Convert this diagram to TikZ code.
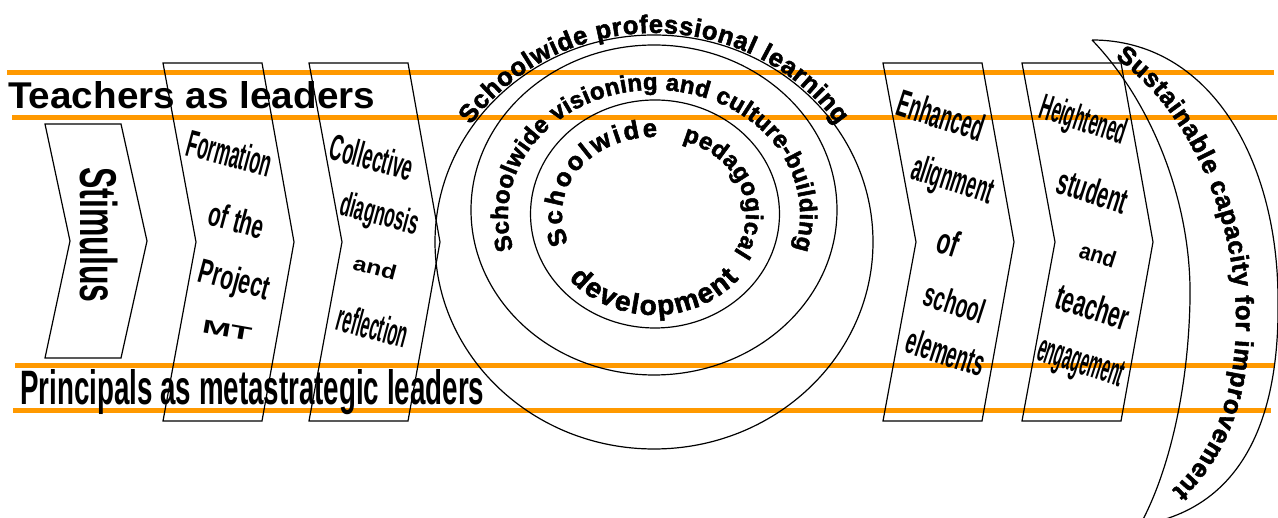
\documentclass[tikz,border=0pt]{standalone}
\usepackage{fontspec}
\setmainfont{Liberation Sans}
\newfontfamily\blackfont{Liberation Sans Bold}[FakeBold=2]
\usepackage{graphicx}
\usepackage{xcolor}
\usetikzlibrary{positioning}
\usetikzlibrary{decorations.text}
\definecolor{bandorange}{RGB}{255,153,0}
\tikzset{band/.style = {draw=bandorange, line width=5pt}}
\newcommand\squeeze[3]{\resizebox*{#1pt}{#2pt}{\bfseries #3}}
\newcommand\arcfont{\blackfont\fontsize{25.5pt}{27pt}\selectfont}
\newcommand\arcbig{\blackfont\fontsize{28pt}{30pt}\selectfont}
\newcommand\arcsmall{\blackfont\fontsize{24pt}{26pt}\selectfont}

\begin{document}
\begin{tikzpicture}[x=1pt,y=1pt,
    chev/.style={draw,line width=1.2pt},
    ring/.style={draw,line width=1.2pt},
    word/.style={inner sep=0pt,rotate=-15},
    rword/.style={inner sep=0pt,rotate=-18}]
\useasboundingbox (0,0) rectangle (1278,518);

\draw[band] (7,445) -- (1274,445);
\draw[band] (12,400) -- (1277,400);
\draw[band] (15,152) -- (1274,152);
\draw[band] (13,107) -- (1271,107);

\node[anchor=base west,inner sep=0pt] (teachers) at (8,409.5) {\resizebox{367pt}{27pt}{\bfseries Teachers as leaders}};
\node[anchor=base west,inner sep=0pt] (principals) at (20,113) {\resizebox{464pt}{35pt}{\bfseries Principals as metastrategic leaders}};

\draw[chev] (45,394) -- ++(76,0) -- ++(26,-117) -- ++(-26,-117) -- ++(-76,0) -- ++(25,117) -- cycle;
\foreach \x in {163,309,883,1022}
  \draw[chev] (\x,455) -- ++(99,0) -- ++(32,-179) -- ++(-32,-179) -- ++(-99,0) -- ++(33,179) -- cycle;

\coordinate (outer) at (654,276);
\coordinate (middle) at (654,308);
\coordinate (inner) at (655,304);
\draw[ring] (outer) ellipse [x radius=219, y radius=207];
\draw[ring] (middle) ellipse [x radius=183, y radius=165];
\draw[ring] (inner) ellipse [x radius=124.5, y radius=114];

\draw[ring] (1092,478) .. controls (1210,478) and (1278,358) .. (1278,218)
  .. controls (1280,88) and (1235,8) .. (1140,-7)
  .. controls (1165,38) and (1188,118) .. (1190,218)
  .. controls (1192,318) and (1150,418) .. (1092,478);

\node[rotate=-90,inner sep=0pt] (stimulus) at (99,283) {\squeeze{135}{38}{Stimulus}};

\node[word] (formation) at (230,365) {\squeeze{86}{28}{Formation}};
\node[word] (ofthe) at (237,298) {\squeeze{56}{25}{of the}};
\node[word] (project) at (234,236) {\squeeze{72}{32}{Project}};
\node[inner sep=0pt,rotate=-10] (mt) at (227,188) {\squeeze{50}{13}{MT}};
\node[word] (collective) at (372,361) {\squeeze{85}{27}{Collective}};
\node[word] (diagnosis) at (379,302) {\squeeze{80}{32}{diagnosis}};
\node[word] (and1) at (375,250) {\squeeze{44}{15}{and}};
\node[word] (reflection) at (373,192) {\squeeze{72}{28}{reflection}};

\node[rword] (enhanced) at (941,403) {\squeeze{89}{28}{Enhanced}};
\node[rword] (alignment) at (952,336) {\squeeze{84}{35}{alignment}};
\node[rword] (of) at (949,276) {\squeeze{21}{27}{of}};
\node[rword] (school) at (955,215) {\squeeze{62}{25}{school}};
\node[rword] (elements) at (946,166) {\squeeze{81}{27}{elements}};
\node[rword] (heightened) at (1083,396) {\squeeze{89}{34}{Heightened}};
\node[rword] (student) at (1093,327) {\squeeze{72}{27}{student}};
\node[rword] (and2) at (1098,263) {\squeeze{37}{17}{and}};
\node[rword] (teacher) at (1093,211) {\squeeze{75}{27}{teacher}};
\node[rword] (engagement) at (1080,153) {\squeeze{89}{34}{engagement}};

\path[decorate,decoration={text along path,text align=fit to path,
    text={|\arcfont|Schoolwide professional learning}}]
  ([shift={(146:221 and 209)}]outer) arc[start angle=146,end angle=34,x radius=221,y radius=209];
\path[decorate,decoration={text along path,text align=fit to path,
    text={|\arcsmall|Schoolwide visioning and culture-building}}]
  ([shift={(196:146 and 125)}]654,303) arc[start angle=196,end angle=-16,x radius=146,y radius=125];
\path[decorate,decoration={text along path,text align=fit to path,
    text={|\arcfont|Schoolwide}}]
  ([shift={(202:92 and 77)}]654,304) arc[start angle=202,end angle=88,x radius=92,y radius=77];
\path[decorate,decoration={text along path,text align=fit to path,
    text={|\arcsmall|pedagogical}}]
  ([shift={(72:92 and 77)}]654,304) arc[start angle=72,end angle=-30,x radius=92,y radius=77];
\path[decorate,decoration={text along path,text align=fit to path,
    text={|\arcbig|development}}]
  ([shift={(220:111 and 101)}]654,304) arc[start angle=220,end angle=320,x radius=111,y radius=101];
\path[decorate,decoration={text along path,text align=fit to path,
    text={|\arcfont|Sustainable capacity for improvement}}]
  (1115,460) .. controls (1190,408) and (1236,298) .. (1236,198)
  .. controls (1236,118) and (1210,62) .. (1172,28);
\end{tikzpicture}
\end{document}
